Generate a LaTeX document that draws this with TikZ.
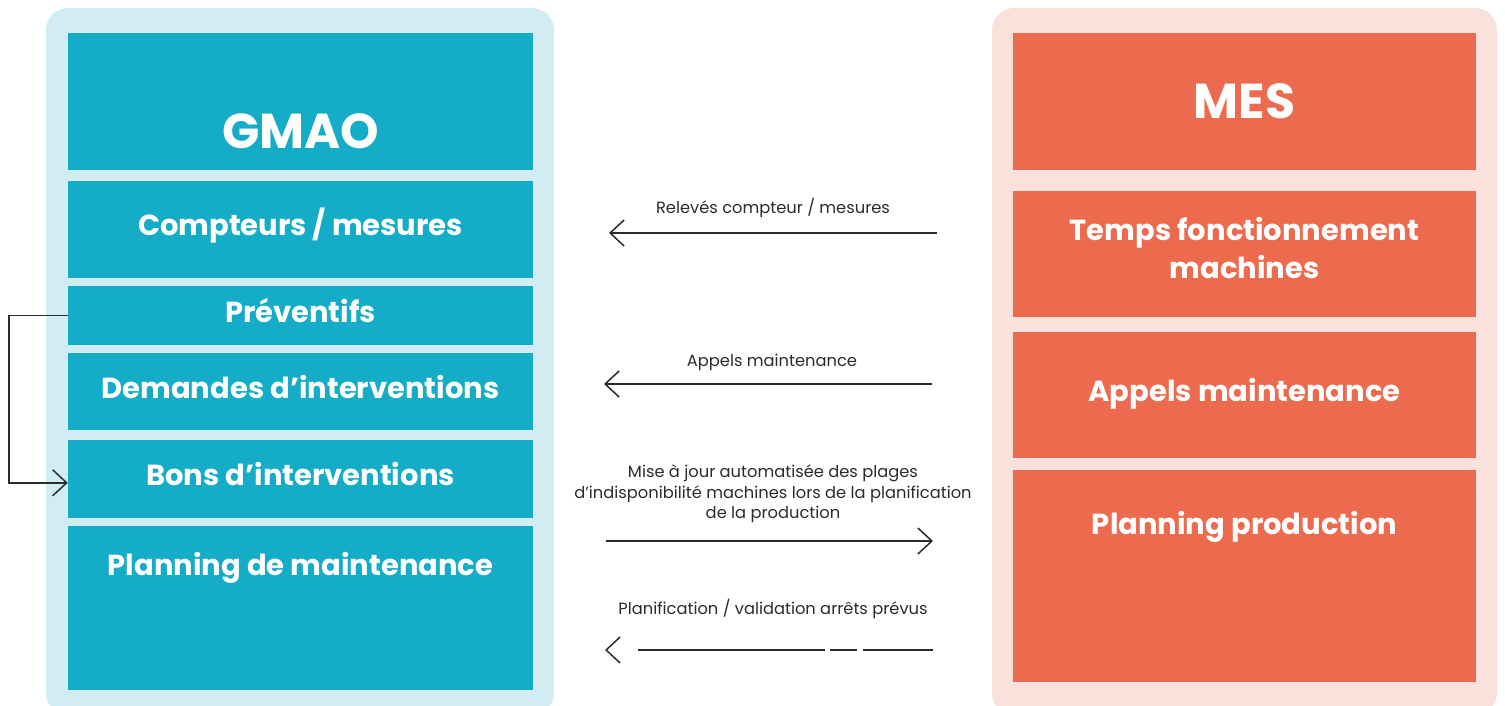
\documentclass[tikz,border=0pt]{standalone}
\usepackage{fontspec}
\setmainfont{Poppins}
\usepackage{tikz}
\usetikzlibrary{positioning, arrows.meta}

\definecolor{gmaolight}{HTML}{D1EDF3}
\definecolor{gmaoteal}{HTML}{14ACC7}
\definecolor{meslight}{HTML}{FBE1DC}
\definecolor{mesorange}{HTML}{EC6A4D}
\definecolor{linegray}{HTML}{2B2B2B}

\tikzstyle{gmaobox} = [rectangle, fill=gmaoteal, minimum width=465pt, inner sep=0pt, text height=22pt, text depth=9pt, text=white, align=center, font=\fontsize{29}{38}\selectfont\bfseries]
\tikzstyle{mesbox} = [rectangle, fill=mesorange, minimum width=463pt, inner sep=0pt, text height=22pt, text depth=9pt, text=white, align=center, font=\fontsize{29}{38}\selectfont\bfseries]
\tikzstyle{boxtext} = [text=white, align=center, font=\fontsize{29}{38}\selectfont\bfseries]
\tikzstyle{titletext} = [text=white, font=\fontsize{49}{56}\selectfont\bfseries]
\tikzstyle{flowlabel} = [text=linegray, align=center, font=\fontsize{16.3}{20.5}\selectfont]
\tikzstyle{arrow} = [line width=1.5pt, draw=linegray, ->, >={Straight Barb[length=14pt,width=26pt]}]

\begin{document}
\begin{tikzpicture}[x=1pt, y=-1pt]
        \useasboundingbox (0,0) rectangle (1505,706);
        \fill [gmaolight, rounded corners=22pt] (46,8) rectangle (554,715);
        \fill [meslight, rounded corners=22pt] (992,8) rectangle (1497,715);

        % GMAO side
        \node (gmao) [gmaobox, minimum height=137pt, anchor=north] at (300.5,33) {};
        \node (gmaotitle) [titletext] at ([yshift=-30pt]gmao.center) {GMAO};
        \node (cpt) [gmaobox, minimum height=97pt, below=10pt of gmao] {Compteurs / mesures};
        \node (prev) [gmaobox, minimum height=59pt, below=8pt of cpt] {Préventifs};
        \node (di) [gmaobox, minimum height=77pt, below=8pt of prev] {Demandes d’interventions};
        \node (bi) [gmaobox, minimum height=78pt, below=9pt of di] {Bons d’interventions};
        \node (pm) [gmaobox, minimum height=164pt, below=8pt of bi] {};
        \node (pmtext) [boxtext] at ([yshift=-42pt]pm.north) {Planning de maintenance};

        % MES side
        \node (mes) [mesbox, titletext, text height=, text depth=, minimum height=137pt, anchor=north] at (1244.5,33) {MES};
        \node (tps) [mesbox, text height=60pt, text depth=10pt, minimum height=126pt, below=20pt of mes] {Temps fonctionnement\\machines};
        \node (app) [mesbox, minimum height=126pt, below=15pt of tps] {Appels maintenance};
        \node (pp) [mesbox, minimum height=212pt, below=12pt of app] {};
        \node (pptext) [boxtext] at ([yshift=-57pt]pp.north) {Planning production};

        % flows
        \node (lbrel) [flowlabel] at (773,208) {Relevés compteur / mesures};
        \node (lbapp) [flowlabel] at (772,362) {Appels maintenance};
        \node (lbmaj) [flowlabel] at (773,494) {Mise à jour automatisée des plages\\d’indisponibilité machines lors de la planification\\de la production};
        \node (lbpla) [flowlabel] at (773,609) {Planification / validation arrêts prévus};

        \coordinate (relS) at (937,233);
        \coordinate (relE) at (609,233);
        \coordinate (appS) at (932,384);
        \coordinate (appE) at (604,384);
        \coordinate (majS) at (606,541);
        \coordinate (majE) at (933,541);
        \coordinate (plaS) at (933,650);
        \coordinate (plaE) at (605,650);

        \draw [arrow] (relS) -- (relE);
        \draw [arrow] (appS) -- (appE);
        \draw [arrow] (majS) -- (majE);
        \draw [arrow, dash pattern=on 70pt off 6pt on 27pt off 5pt on 187pt off 60pt] (plaS) -- (plaE);

        \draw [arrow] (prev.west) -- ++(-59,0) |- ([yshift=-4pt]bi.west);
\end{tikzpicture}
\end{document}
